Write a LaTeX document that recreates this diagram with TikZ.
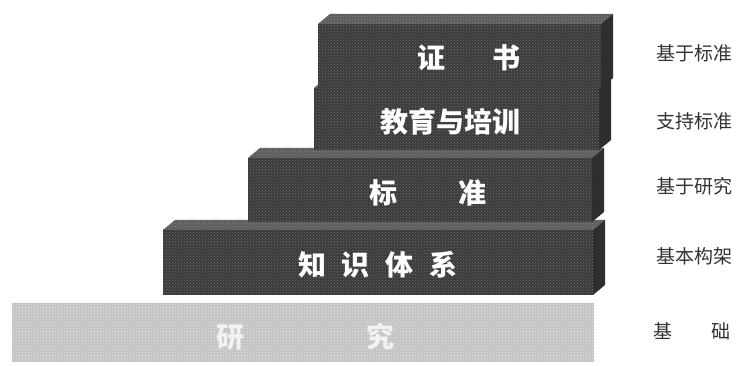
\documentclass[tikz,border=0pt]{standalone}
\usepackage{fontspec}
\usetikzlibrary{patterns}
\newfontfamily\cjk{Noto Sans CJK SC}
\definecolor{blockdark}{HTML}{3A3A3A}
\definecolor{blocktop}{HTML}{5C5C5C}
\definecolor{blockside}{HTML}{2E2E2E}
\definecolor{baselight}{HTML}{C2C2C2}

\begin{document}
\begin{tikzpicture}[x=1pt, y=-1pt,
  front/.style = {preaction={fill=blockdark}, pattern=crosshatch dots, pattern color=black!55},
  topface/.style = {preaction={fill=blocktop}, pattern=crosshatch dots, pattern color=black!45},
  sideface/.style = {fill=blockside},
  baselayer/.style = {preaction={fill=baselight}, pattern=crosshatch dots, pattern color=white!85!gray},
  word/.style = {font=\cjk\bfseries\fontsize{28}{28}\selectfont, text=white, inner sep=0pt},
  note/.style = {font=\cjk\fontsize{19}{19}\selectfont, text=black!80, inner sep=0pt},
  ]
  \useasboundingbox (0,0) rectangle (740,366);
  % base layer
  \fill[baselayer] (12,303) rectangle (594,362);
  % blocks, lowest first: left/top/right/bottom of the front face
  \foreach \xa/\ya/\xb/\yb in {163/230/593/295, 248/158/592/222, 314/88/599/150, 318/24/601/88} {
    \fill[topface] (\xa,\ya) -- ++(12,-10) -- (\xb+12,\ya-10) -- (\xb,\ya) -- cycle;
    \fill[sideface] (\xb,\ya) -- (\xb+12,\ya-10) -- (\xb+12,\yb-10) -- (\xb,\yb) -- cycle;
    \fill[front] (\xa,\ya) rectangle (\xb,\yb);
  }
  % texts on the blocks
  \node[word] (cert) at (469,58) {证\hspace{47pt}书};
  \node[word] (edu) at (450,122) {教育与培训};
  \node[word] (std) at (428,193) {标\hspace{61pt}准};
  \node[word] (body) at (378,265) {知\hspace{16pt}识\hspace{16pt}体\hspace{16pt}系};
  \node[word, text=white!90!gray] (res) at (305,337) {研\hspace{122pt}究};
  % notes on the right
  \node[note] (n1) at (694,53) {基于标准};
  \node[note] (n2) at (694,121) {支持标准};
  \node[note] (n3) at (694,186) {基于研究};
  \node[note] (n4) at (694,256) {基本构架};
  \node[note] (n5) at (692,331) {基\hspace{40pt}础};
\end{tikzpicture}
\end{document}
